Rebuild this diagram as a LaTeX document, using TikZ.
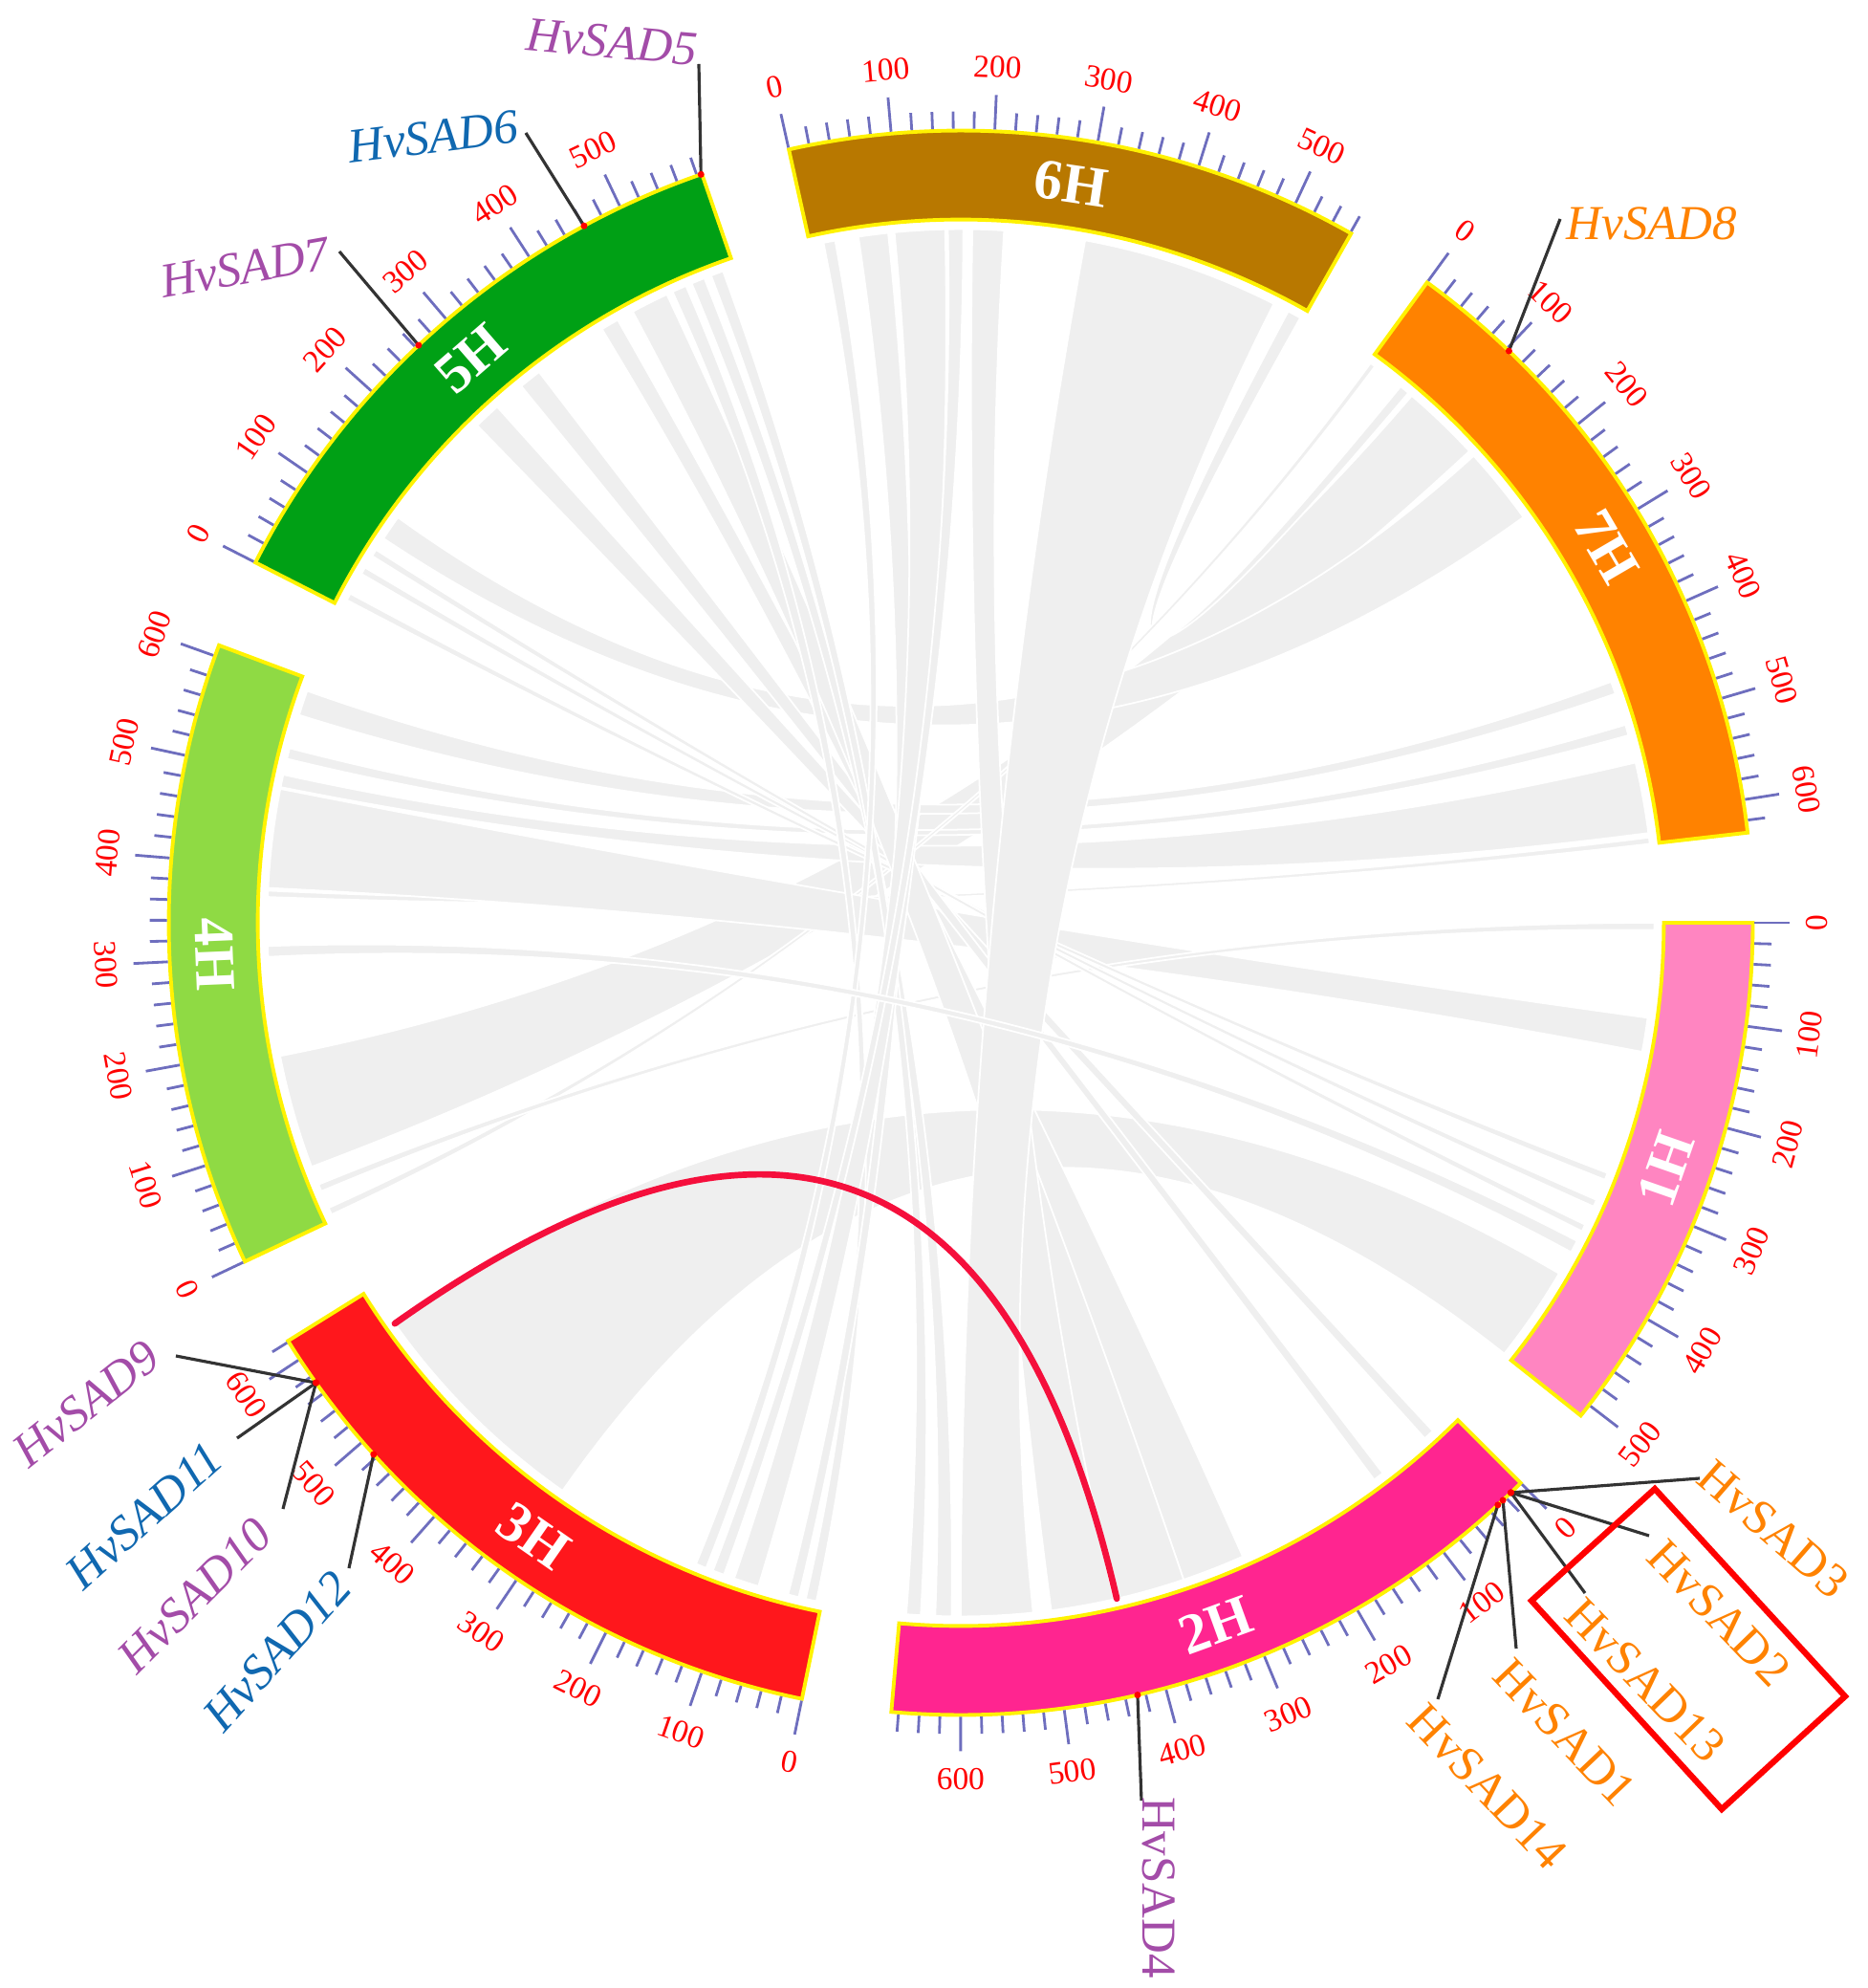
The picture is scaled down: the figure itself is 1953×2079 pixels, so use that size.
\documentclass[tikz,border=0pt]{standalone}
\usepackage{fontspec}
\setmainfont{Liberation Serif}
\definecolor{colI}{RGB}{255,133,193}
\definecolor{colII}{RGB}{255,37,144}
\definecolor{colIII}{RGB}{255,23,28}
\definecolor{colIV}{RGB}{143,218,68}
\definecolor{colV}{RGB}{0,160,21}
\definecolor{colVI}{RGB}{184,120,0}
\definecolor{colVII}{RGB}{255,130,0}
\definecolor{tickcol}{RGB}{110,110,190}
\definecolor{chordcol}{RGB}{239,239,239}
\definecolor{linkred}{RGB}{245,15,60}
\definecolor{gpurple}{RGB}{163,76,168}
\definecolor{gblue}{RGB}{16,104,176}
\definecolor{gorange}{RGB}{255,130,0}
\def\Rin{7.35cm}
\def\Rout{8.28cm}
\def\Rch{7.25cm}
\def\Rctl{2.417cm}
\def\sI{0}
\def\sII{45.01}
\def\sIII{101.57}
\def\sIV{154.68}
\def\sV{207.05}
\def\sVI{257.46}
\def\sVII{306.07}
\tikzset{
  band/.style={draw=yellow, line width=1.1pt},
  tickln/.style={draw=tickcol, line width=0.8pt},
  ticklab/.style={text=red, font=\fontsize{9.5}{10}\selectfont, inner sep=0pt},
  chord/.style={fill=chordcol, draw=white, line width=0.5pt},
  chromlab/.style={text=white, font=\fontsize{17}{17}\selectfont\bfseries, inner sep=0pt},
  genelab/.style={font=\fontsize{14.5}{15}\selectfont\itshape, inner sep=0pt},
  genelabu/.style={font=\fontsize{14.5}{15}\selectfont, inner sep=0pt},
  geneline/.style={draw=black!80, line width=0.9pt},
}
\newcommand\chrom[5]{%
  \pgfmathsetmacro\chA{-(#1)}%
  \pgfmathsetmacro\chB{-(#1+0.075*#2)}%
  \pgfmathsetmacro\chM{-(#1+0.0375*#2)}%
  \pgfmathsetmacro\chT{#1+0.0375*#2}%
  \filldraw[band, fill=#3] (\chA:\Rin) arc[start angle=\chA, end angle=\chB, radius=\Rin]
     -- (\chB:\Rout) arc[start angle=\chB, end angle=\chA, radius=\Rout] -- cycle;
  \pgfmathsetmacro\chR{\chT<180 ? \chM+90 : \chM-90}%
  \node[chromlab, rotate=\chR] (#5) at (\chM:7.81cm) {#4};
  \pgfmathtruncatemacro\chN{floor(#2/20)}%
  \foreach \k in {0,...,\chN}{%
    \pgfmathtruncatemacro\mm{20*\k}%
    \pgfmathsetmacro\tp{-(#1+0.075*\mm)}%
    \pgfmathsetmacro\tt{#1+0.075*\mm}%
    \pgfmathtruncatemacro\ismaj{mod(\mm,100)==0 ? 1 : 0}%
    \ifnum\ismaj=1
      \draw[tickln] (\tp:8.30cm) -- (\tp:8.66cm);
      \pgfmathsetmacro\tr{\tt<180 ? \tp+90 : \tp-90}%
      \node[ticklab, rotate=\tr] (tl-#5-\mm) at (\tp:8.95cm) {\mm};
    \else
      \draw[tickln] (\tp:8.30cm) -- (\tp:8.48cm);
    \fi
  }%
}
\newcommand\rib[6]{%
  \pgfmathsetmacro\ra{-(#1+0.075*#2)}%
  \pgfmathsetmacro\rb{-(#1+0.075*#3)}%
  \pgfmathsetmacro\rc{-(#4+0.075*#5)}%
  \pgfmathsetmacro\rd{-(#4+0.075*#6)}%
  \filldraw[chord] (\ra:\Rch) arc[start angle=\ra, end angle=\rb, radius=\Rch]
    .. controls (\rb:\Rctl) and (\rc:\Rctl) .. (\rc:\Rch)
    arc[start angle=\rc, end angle=\rd, radius=\Rch]
    .. controls (\rd:\Rctl) and (\ra:\Rctl) .. cycle;
}
\newcommand\gene[8]{%
  \coordinate (g#1) at (-#4:\Rout);
  \coordinate (e#1) at (#5);
  \draw[geneline] (g#1) -- (e#1);
  \fill[red] (g#1) circle[radius=1pt];
  \node[#8, text=#3, rotate=#7] (n#1) at (#6) {#2};
}
\begin{document}
\begin{tikzpicture}[x=0.01cm, y=0.01cm]
\useasboundingbox (-1005,-1114) rectangle (948,965);
% grey links
\rib{\sVII}{60}{148}{\sIV}{63}{190}
\rib{\sVII}{155}{242}{\sV}{88}{116}
\rib{\sVI}{543}{558}{\sVII}{44}{55}
\rib{\sVII}{448}{462}{\sIV}{570}{598}
\rib{\sVII}{498}{510}{\sIV}{520}{532}
\rib{\sVII}{541}{620}{\sIV}{488}{502}
\rib{\sVII}{625}{632}{\sIV}{366}{373}
\rib{\sVII}{2}{8}{\sIV}{6}{14}
\rib{\sIV}{376}{486}{\sI}{105}{143}
\rib{\sIII}{313}{578}{\sI}{405}{512}
\rib{\sI}{0}{8}{\sIV}{34}{42}
\rib{\sV}{9}{17}{\sI}{282}{290}
\rib{\sV}{42}{50}{\sI}{314}{322}
\rib{\sV}{65}{73}{\sI}{344}{352}
\rib{\sV}{250}{280}{\sII}{28}{40}
\rib{\sV}{315}{340}{\sII}{100}{112}
\rib{\sV}{424}{444}{\sII}{280}{350}
\rib{\sV}{463}{505}{\sII}{350}{427}
\rib{\sV}{512}{528}{\sIII}{6}{18}
\rib{\sV}{535}{550}{\sII}{610}{628}
\rib{\sV}{558}{572}{\sII}{644}{660}
\rib{\sVI}{15}{28}{\sIII}{133}{145}
\rib{\sVI}{54}{87}{\sIII}{26}{38}
\rib{\sVI}{94}{150}{\sIII}{72}{100}
\rib{\sVI}{153}{170}{\sIII}{112}{125}
\rib{\sVI}{180}{215}{\sII}{430}{500}
\rib{\sVI}{305}{525}{\sII}{520}{600}
\rib{\sI}{364}{378}{\sIV}{300}{312}
% red link
\coordinate (la) at (-144.7:\Rch);
\coordinate (lb) at (-77.0:\Rch);
\draw[linkred, line width=1.9pt, line cap=round] (la) .. controls (-144.7:\Rctl) and (-77.0:\Rctl) .. (lb);
% chromosomes
\chrom{\sI}{513}{colI}{1H}{c1}
\chrom{\sII}{667}{colII}{2H}{c2}
\chrom{\sIII}{621}{colIII}{3H}{c3}
\chrom{\sIV}{611}{colIV}{4H}{c4}
\chrom{\sV}{585}{colV}{5H}{c5}
\chrom{\sVI}{561}{colVI}{6H}{c6}
\chrom{\sVII}{632}{colVII}{7H}{c7}
% genes
\gene{5}{HvSAD5}{gpurple}{250.85}{-274,898}{-365,921}{-5}{genelab}
\gene{6}{HvSAD6}{gblue}{241.6}{-455,826}{-552,822}{7}{genelab}
\gene{7}{HvSAD7}{gpurple}{226.8}{-650,702}{-749,685}{10}{genelab}
\gene{8}{HvSAD8}{gorange}{313.8}{627,736}{723,731}{0}{genelab}
\gene{9}{HvSAD9}{gpurple}{144.5}{-821,-453}{-915,-503}{38.5}{genelab}
\gene{11}{HvSAD11}{gblue}{144.5}{-757,-539}{-854,-620}{42}{genelab}
\gene{10}{HvSAD10}{gpurple}{144.5}{-709,-613}{-801,-704}{45}{genelab}
\gene{12}{HvSAD12}{gblue}{137.85}{-640,-675}{-715,-762}{48}{genelab}
\gene{3}{HvSAD3}{gorange}{46.0}{773,-581}{850,-634}{-41}{genelabu}
\gene{2}{HvSAD2}{gorange}{46.0}{720,-641}{793,-722}{-46}{genelabu}
\gene{13}{HvSAD13}{gorange}{46.0}{653,-701}{716,-792}{-46}{genelabu}
\gene{1}{HvSAD1}{gorange}{46.8}{581,-759}{632,-847}{-46.5}{genelabu}
\gene{14}{HvSAD14}{gorange}{47.3}{499,-812}{551,-903}{-46.5}{genelabu}
\gene{4}{HvSAD4}{gpurple}{77.1}{189,-918}{207,-1009}{-90}{genelabu}
% highlight box
\coordinate (bxa) at (726,-592);
\coordinate (bxb) at (925,-809);
\coordinate (bxc) at (796,-927);
\coordinate (bxd) at (597,-709);
\draw[red, line width=1.8pt] (bxa) -- (bxb) -- (bxc) -- (bxd) -- cycle;
\end{tikzpicture}
\end{document}
